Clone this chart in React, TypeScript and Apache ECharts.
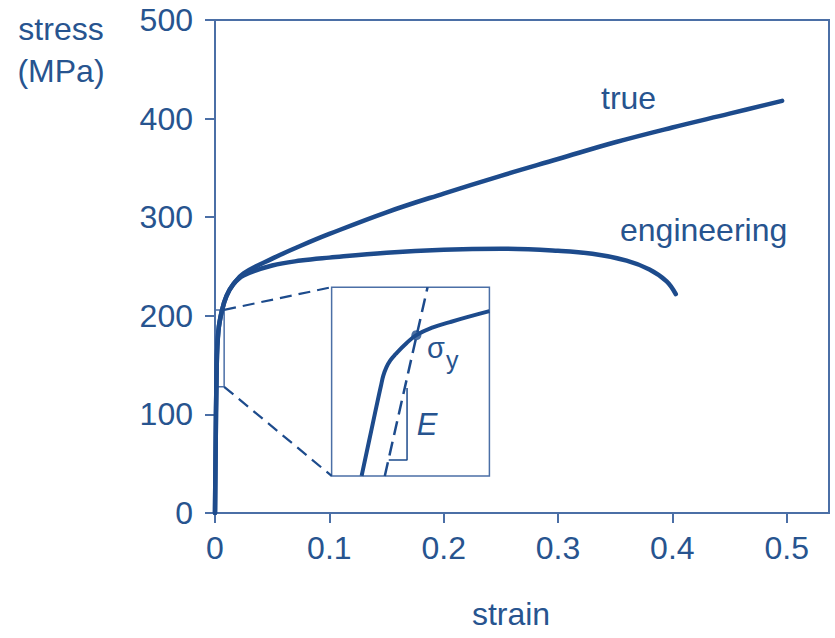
import React, { useEffect, useRef } from "react";
import * as echarts from "echarts";

// ---- axes ----
const xTicks = [0, 0.1, 0.2, 0.3, 0.4, 0.5];
const yTicks = [0, 100, 200, 300, 400, 500];
const X_MAX = 0.537;
const Y_MAX = 500;

// ---- main curves (strain, stress MPa) ----
const trueStrain = [0, 0.0015, 0.003, 0.006, 0.01, 0.016, 0.025, 0.05, 0.075, 0.1, 0.15, 0.2, 0.25, 0.3, 0.35, 0.4, 0.45, 0.496];
const trueStress = [0, 150, 185, 205, 220, 232, 243, 258, 271, 283, 305, 324, 342, 359, 376, 391, 405, 418];
const engStrain = [0, 0.0015, 0.003, 0.006, 0.01, 0.016, 0.025, 0.05, 0.075, 0.1, 0.15, 0.2, 0.25, 0.3, 0.33, 0.36, 0.38, 0.395, 0.403];
const engStress = [0, 150, 185, 205, 220, 232, 241, 251, 256, 259, 264, 267, 268, 266, 263, 256, 247, 235, 222];

// ---- zoom box on the main plot and the inset it expands into ----
const zoomBoxStrain = [-0.0045, 0.008];
const zoomBoxStress = [128, 206];
const insetStrain = [0.102, 0.24];
const insetStress = [37.6, 229];

// ---- inset content (normalised 0..1 inside the inset) ----
const insetCurveU = [0.19, 0.25, 0.3, 0.312, 0.327, 0.347, 0.372, 0.405, 0.474, 0.537, 0.642, 0.75, 0.853, 1.0];
const insetCurveV = [0, 0.235, 0.43, 0.475, 0.53, 0.575, 0.612, 0.645, 0.703, 0.746, 0.787, 0.815, 0.84, 0.873];
const modulusU = [0.337, 0.608];
const modulusV = [0, 1];
const yieldU = [0.537];
const yieldV = [0.746];
const triangleU = [0.362, 0.478, 0.478];
const triangleV = [0.085, 0.085, 0.466];

const LINE = "#1d4b8c";
const AXIS = "#4b6fa6";
const TEXT = "#27548f";
const FONT = "'Liberation Sans', Arial, sans-serif";
const FS = 32;

const zip = (a: number[], b: number[]) => a.map((v, i) => [v, b[i]]);

export default function App() {
  const ref = useRef<HTMLDivElement>(null);
  useEffect(() => {
    document.body.style.margin = "0";
    if (!ref.current) return;
    const chart = echarts.init(ref.current, null, { renderer: "svg" });

    const G = { left: 215, top: 20, width: 614, height: 493 };
    const px = (x: number) => G.left + (x / X_MAX) * G.width;
    const py = (y: number) => G.top + G.height - (y / Y_MAX) * G.height;
    const inset = {
      left: px(insetStrain[0]),
      top: py(insetStress[1]),
      width: px(insetStrain[1]) - px(insetStrain[0]),
      height: py(insetStress[0]) - py(insetStress[1]),
    };

    const zb = [
      [zoomBoxStrain[0], zoomBoxStress[0]],
      [zoomBoxStrain[1], zoomBoxStress[0]],
      [zoomBoxStrain[1], zoomBoxStress[1]],
      [zoomBoxStrain[0], zoomBoxStress[1]],
      [zoomBoxStrain[0], zoomBoxStress[0]],
    ];

    chart.setOption({
      animation: false,
      grid: [
        { ...G, show: true, borderColor: AXIS, borderWidth: 2, containLabel: false },
        { ...inset, show: true, borderColor: AXIS, borderWidth: 1.5, containLabel: false },
      ],
      xAxis: [
        {
          type: "value",
          gridIndex: 0,
          min: 0,
          max: X_MAX,
          interval: 0.1,
          splitLine: { show: false },
          axisLine: { lineStyle: { color: AXIS, width: 2 } },
          axisTick: { show: true, length: 10, lineStyle: { color: AXIS, width: 2 }, customValues: xTicks },
          axisLabel: {
            customValues: xTicks,
            color: TEXT,
            fontSize: FS,
            fontFamily: FONT,
            margin: 19,
            formatter: (v: number) => (Math.abs(v) < 1e-9 ? "0" : String(Number(v.toFixed(1)))),
          },
        },
        { type: "value", gridIndex: 1, min: 0, max: 1, show: false },
      ],
      yAxis: [
        {
          type: "value",
          gridIndex: 0,
          min: 0,
          max: Y_MAX,
          interval: 100,
          splitLine: { show: false },
          axisLine: { lineStyle: { color: AXIS, width: 2 } },
          axisTick: { show: true, length: 10, lineStyle: { color: AXIS, width: 2 }, customValues: yTicks },
          axisLabel: { customValues: yTicks, color: TEXT, fontSize: FS, fontFamily: FONT, margin: 22 },
        },
        { type: "value", gridIndex: 1, min: 0, max: 1, show: false },
      ],
      series: [
        {
          type: "line",
          name: "true",
          data: zip(trueStrain, trueStress),
          smooth: 0.4,
          showSymbol: false,
          lineStyle: { color: LINE, width: 4.5, cap: "round" },
          z: 5,
        },
        {
          type: "line",
          name: "engineering",
          data: zip(engStrain, engStress),
          smooth: 0.4,
          showSymbol: false,
          lineStyle: { color: LINE, width: 4.5, cap: "round" },
          z: 5,
        },
        {
          type: "line",
          data: zb,
          clip: false,
          showSymbol: false,
          lineStyle: { color: AXIS, width: 1.5 },
          z: 3,
        },
        {
          type: "line",
          data: [
            [zoomBoxStrain[1], zoomBoxStress[1]],
            [insetStrain[0], insetStress[1]],
          ],
          showSymbol: false,
          lineStyle: { color: LINE, width: 2.2, type: [12, 7] },
          z: 3,
        },
        {
          type: "line",
          data: [
            [zoomBoxStrain[1], zoomBoxStress[0]],
            [insetStrain[0], insetStress[0]],
          ],
          showSymbol: false,
          lineStyle: { color: LINE, width: 2.2, type: [12, 7] },
          z: 3,
        },
        // inset
        {
          type: "line",
          xAxisIndex: 1,
          yAxisIndex: 1,
          data: zip(insetCurveU, insetCurveV),
          smooth: 0.45,
          showSymbol: false,
          lineStyle: { color: LINE, width: 4 },
          z: 5,
        },
        {
          type: "line",
          xAxisIndex: 1,
          yAxisIndex: 1,
          data: zip(modulusU, modulusV),
          showSymbol: false,
          lineStyle: { color: LINE, width: 2.5, type: [14, 7] },
          z: 4,
        },
        {
          type: "line",
          xAxisIndex: 1,
          yAxisIndex: 1,
          data: zip(triangleU, triangleV),
          showSymbol: false,
          lineStyle: { color: LINE, width: 1.5 },
          z: 4,
        },
        {
          type: "scatter",
          xAxisIndex: 1,
          yAxisIndex: 1,
          data: zip(yieldU, yieldV),
          symbolSize: 10,
          itemStyle: { color: LINE },
          z: 6,
        },
      ],
      graphic: [
        {
          type: "text",
          x: 61,
          y: 8,
          style: {
            text: "stress\n(MPa)",
            align: "center",
            verticalAlign: "top",
            fontSize: FS,
            lineHeight: 42,
            fontFamily: FONT,
            fill: TEXT,
          },
        },
        {
          type: "text",
          x: 601,
          y: 98,
          style: { text: "true", verticalAlign: "middle", fontSize: FS, fontFamily: FONT, fill: TEXT },
        },
        {
          type: "text",
          x: 620,
          y: 230,
          style: { text: "engineering", verticalAlign: "middle", fontSize: FS, fontFamily: FONT, fill: TEXT },
        },
        {
          type: "text",
          x: 511,
          y: 614,
          style: { text: "strain", align: "center", verticalAlign: "middle", fontSize: FS, fontFamily: FONT, fill: TEXT },
        },
        {
          type: "text",
          x: 427,
          y: 348,
          style: { text: "σ", verticalAlign: "middle", fontSize: 29, fontFamily: FONT, fill: TEXT },
        },
        {
          type: "text",
          x: 446,
          y: 360,
          style: { text: "y", verticalAlign: "middle", fontSize: 25, fontFamily: FONT, fill: TEXT },
        },
        {
          type: "text",
          x: 427,
          y: 424,
          style: {
            text: "E",
            align: "center",
            verticalAlign: "middle",
            fontSize: 31,
            fontStyle: "italic",
            fontFamily: FONT,
            fill: TEXT,
          },
        },
      ],
    });
    return () => chart.dispose();
  }, []);
  return <div ref={ref} style={{ width: 835, height: 638 }} />;
}
